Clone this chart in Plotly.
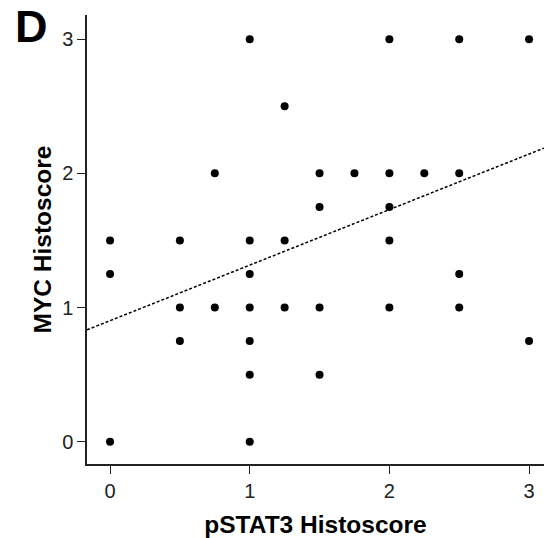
import plotly.graph_objects as go
import numpy as np

# Data
pstat3 = [0, 0, 0,
          0.5, 0.5, 0.5,
          0.75, 0.75,
          1, 1, 1, 1, 1, 1, 1,
          1.25, 1.25, 1.25,
          1.5, 1.5, 1.5, 1.5,
          1.75,
          2, 2, 2, 2, 2,
          2.25,
          2.5, 2.5, 2.5, 2.5,
          3, 3]
myc = [0, 1.25, 1.5,
       1.5, 1.0, 0.75,
       2, 1,
       3, 1.5, 1.25, 1, 0.75, 0.5, 0,
       2.5, 1.5, 1,
       2, 1.75, 1, 0.5,
       2,
       3, 2, 1.75, 1.5, 1,
       2,
       3, 2, 1.25, 1,
       3, 0.75]

# Fit line (as drawn in the reference)
fit_intercept = 0.902
fit_slope = 0.414

x_range = [-0.165, 3.107]
y_range = [-0.166, 3.18]
ticks = [0, 1, 2, 3]

font = "Liberation Sans, Arial, sans-serif"

fig = go.Figure()
xl = np.array(x_range)
fig.add_trace(go.Scatter(x=xl, y=fit_intercept + fit_slope * xl, mode="lines",
                         line=dict(color="black", width=1.5, dash="3px,2px"),
                         hoverinfo="skip"))
fig.add_trace(go.Scatter(x=pstat3, y=myc, mode="markers",
                         marker=dict(color="black", size=8)))

fig.update_layout(
    width=544, height=538,
    margin=dict(l=87, r=0, t=15, b=74),
    plot_bgcolor="white", paper_bgcolor="white",
    showlegend=False,
    font=dict(family=font, color="black"),
    xaxis=dict(range=x_range, tickvals=ticks, ticks="outside", ticklen=8,
               tickwidth=1.3, tickcolor="#222", showline=True, linecolor="#222",
               linewidth=1.5, showgrid=False, zeroline=False,
               tickfont=dict(size=20, family=font, color="#222"),
               title=dict(text="<b>pSTAT3 Histoscore</b>", standoff=15,
                          font=dict(size=24.5, family=font))),
    yaxis=dict(range=y_range, tickvals=ticks, ticks="outside", ticklen=8,
               tickwidth=1.3, tickcolor="#222", showline=True, linecolor="#222",
               linewidth=1.5, showgrid=False, zeroline=False,
               tickfont=dict(size=20, family=font, color="#222"),
               title=dict(text="<b>MYC Histoscore</b>", standoff=4,
                          font=dict(size=24.5, family=font))),
    annotations=[dict(text="<b>D</b>", x=(13 - 87) / 457, y=1 + 16 / 449,
                      xref="paper", yref="paper", showarrow=False,
                      font=dict(size=45, family=font),
                      xanchor="left", yanchor="top")],
)

fig.write_html("out.html", config={"displayModeBar": False},
               post_script="document.body.style.margin='0';")
